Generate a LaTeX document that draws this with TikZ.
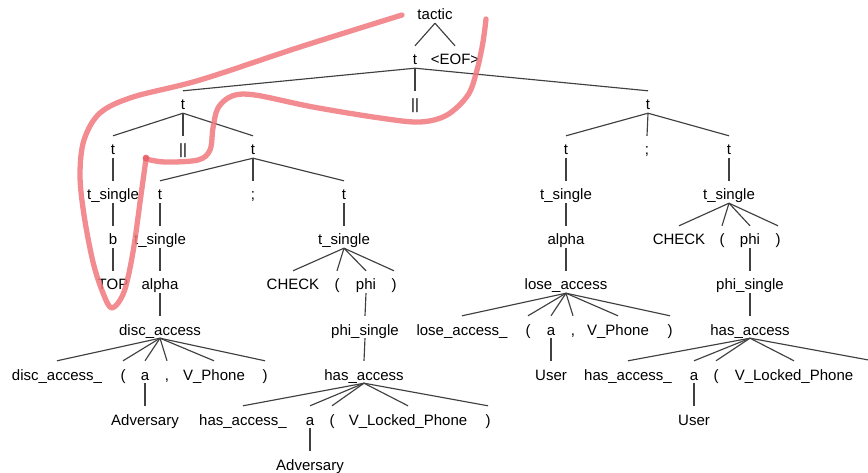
\documentclass[tikz,border=0pt]{standalone}
\usepackage{fontspec}
\setmainfont{Liberation Sans}
\definecolor{hlred}{RGB}{240,120,126}
\definecolor{hldot}{RGB}{232,96,106}
\begin{document}
\begin{tikzpicture}[x={(1pt,0)},y={(0,-1pt)},
  tn/.style={anchor=base,inner xsep=1pt,inner ysep=0pt,text height=19pt,text depth=3pt,font=\fontsize{15}{18}\selectfont},
  edge/.style={draw=black!75,line width=1.15pt},
  hl/.style={draw=hlred,line width=5.3pt,line cap=round,line join=round}]
\useasboundingbox (0,0) rectangle (868,473);
% level 0
\node[tn] (tactic) at (435,20) {tactic};
% level 1
\node[tn] (t1) at (415,65) {t};
\node[tn] (eof) at (455,65) {<EOF>};
% level 2
\node[tn] (tL) at (183,110) {t};
\node[tn] (or1) at (415,110) {||};
\node[tn] (tR) at (648,110) {t};
% level 3
\node[tn] (tLL) at (113,155) {t};
\node[tn] (or2) at (183,155) {||};
\node[tn] (tLR) at (253,155) {t};
\node[tn] (tRL) at (566,155) {t};
\node[tn] (semi1) at (647,155) {;};
\node[tn] (tRR) at (729,155) {t};
% level 4
\node[tn] (ts1) at (113,200) {t\_single};
\node[tn] (tA) at (160,200) {t};
\node[tn] (semi2) at (253,200) {;};
\node[tn] (tB) at (344,200) {t};
\node[tn] (ts3) at (566,200) {t\_single};
\node[tn] (ts4) at (729,200) {t\_single};
% level 5
\node[tn] (b) at (113,245) {b};
\node[tn] (ts2) at (160,245) {t\_single};
\node[tn] (tsB) at (344,245) {t\_single};
\node[tn] (alphaR) at (566,245) {alpha};
\node[tn] (check2) at (679,245) {CHECK};
\node[tn] (lp2) at (722,245) {(};
\node[tn] (phi2) at (750,245) {phi};
\node[tn] (rp2) at (778,245) {)};
% level 6
\node[tn] (top) at (113,290) {TOP};
\node[tn] (alphaL) at (160,290) {alpha};
\node[tn] (check1) at (293,290) {CHECK};
\node[tn] (lp1) at (337,290) {(};
\node[tn] (phi1) at (366,290) {phi};
\node[tn] (rp1) at (394,290) {)};
\node[tn] (lose) at (566,290) {lose\_access};
\node[tn] (phis2) at (750,290) {phi\_single};
% level 7
\node[tn] (disc) at (160,335) {disc\_access};
\node[tn] (phis1) at (365,335) {phi\_single};
\node[tn] (lose_) at (462,335) {lose\_access\_};
\node[tn] (lp3) at (528,335) {(};
\node[tn] (a3) at (551,335) {a};
\node[tn] (cm3) at (573,335) {,};
\node[tn] (vp3) at (618,335) {V\_Phone};
\node[tn] (rp3) at (670,335) {)};
\node[tn] (has2) at (750,335) {has\_access};
% level 8
\node[tn] (disc_) at (57,380) {disc\_access\_};
\node[tn] (lp4) at (123,380) {(};
\node[tn] (a4) at (145,380) {a};
\node[tn] (cm4) at (167,380) {,};
\node[tn] (vp4) at (214,380) {V\_Phone};
\node[tn] (rp4) at (265,380) {)};
\node[tn] (has1) at (364,380) {has\_access};
\node[tn] (user1) at (551,380) {User};
\node[tn] (has2_) at (628,380) {has\_access\_};
\node[tn] (a5) at (694,380) {a};
\node[tn] (lp5) at (716,380) {(};
\node[tn] (vlp2) at (794,380) {V\_Locked\_Phone};
\coordinate (rp5) at (874,361);
% level 9
\node[tn] (adv1) at (145,425) {Adversary};
\node[tn] (has1_) at (243,425) {has\_access\_};
\node[tn] (a6) at (310,425) {a};
\node[tn] (lp6) at (332,425) {(};
\node[tn] (vlp1) at (408,425) {V\_Locked\_Phone};
\node[tn] (rp6) at (488,425) {)};
\node[tn] (user2) at (694,425) {User};
% level 10
\node[tn] (adv2) at (310,470) {Adversary};

% edges
\foreach \p/\c in {tactic/t1,tactic/eof,
  t1/tL,t1/or1,t1/tR,
  tL/tLL,tL/or2,tL/tLR,
  tR/tRL,tR/semi1,tR/tRR,
  tLL/ts1,ts1/b,b/top,
  tLR/tA,tLR/semi2,tLR/tB,
  tA/ts2,ts2/alphaL,alphaL/disc,
  disc/disc_,disc/lp4,disc/a4,disc/cm4,disc/vp4,disc/rp4,a4/adv1,
  tB/tsB,tsB/check1,tsB/lp1,tsB/phi1,tsB/rp1,phi1/phis1,phis1/has1,
  has1/has1_,has1/a6,has1/lp6,has1/vlp1,has1/rp6,a6/adv2,
  tRL/ts3,ts3/alphaR,alphaR/lose,
  lose/lose_,lose/lp3,lose/a3,lose/cm3,lose/vp3,lose/rp3,a3/user1,
  tRR/ts4,ts4/check2,ts4/lp2,ts4/phi2,ts4/rp2,phi2/phis2,phis2/has2,
  has2/has2_,has2/a5,has2/lp5,has2/vlp2,a5/user2}
  \draw[edge] (\p.south) -- (\c.north);
\draw[edge] (has2.south) -- (rp5);

% highlight stroke
\draw[hl,opacity=0.85] plot[smooth,tension=0.55] coordinates {
  (402,15) (300,47) (200,80) (133,97) (100,113) (84,140) (80,175) (84,215)
  (93,262) (103,293) (112,308) (124,292) (133,252) (141,195) (146,159)};
\draw[hl,opacity=0.85] plot[smooth,tension=0.55] coordinates {
  (146,159) (165,162) (198,160) (210,150) (213,128) (218,108) (232,96)
  (255,95) (313,107) (380,118) (420,122) (447,115) (468,95) (477,70)
  (483,42) (486,19)};
\fill[hldot,opacity=0.9] (146,158) circle (3.4);
\end{tikzpicture}
\end{document}
